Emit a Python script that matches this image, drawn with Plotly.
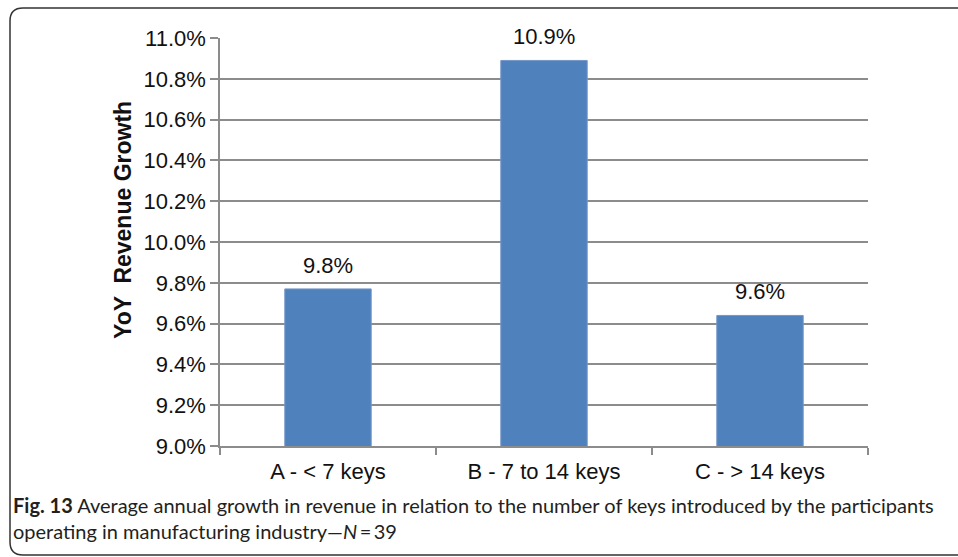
import plotly.graph_objects as go

categories = ["A - < 7 keys", "B - 7 to 14 keys", "C - > 14 keys"]
growth = [9.77, 10.89, 9.64]
bar_labels = ["9.8%", "10.9%", "9.6%"]

caption = ("<b>Fig. 13</b> Average annual growth in revenue in relation to the number of keys "
           "introduced by the participants<br>operating in manufacturing industry\u2014<i>N</i>\u2009=\u200939")

# plot area in pixels, used to convert frame/caption positions to paper coords
L, R, T, B = 220, 868, 38, 446


def px(x):
    return (x - L) / (R - L)


def py(y):
    return (B - y) / (B - T)


fig = go.Figure()

fig.add_trace(
    go.Bar(
        x=categories,
        y=growth,
        width=0.4,
        marker_color="#4f81bd",
        marker_line=dict(color="#7396c8", width=1),
        hoverinfo="x+y",
    )
)

for cat, val, lab in zip(categories, growth, bar_labels):
    fig.add_annotation(
        x=cat, y=val, text=lab, showarrow=False,
        yanchor="bottom", yshift=9,
        font=dict(family="Liberation Sans, Arial", size=22, color="#111111"),
    )

# y axis title
fig.add_annotation(
    xref="paper", yref="paper", x=px(108), y=py(220),
    text="<b>YoY  Revenue Growth</b>", textangle=-90, showarrow=False,
    font=dict(family="Liberation Sans, Arial", size=23, color="#111111"),
)

# caption
fig.add_annotation(
    xref="paper", yref="paper", x=px(11), y=py(491),
    xanchor="left", yanchor="top", align="left",
    text=caption, showarrow=False,
    font=dict(family="Lato, sans-serif", size=20, color="#231f20"),
)

# rounded frame around the figure
x0, y0, x1, y1, r = 10, 8, 962, 555, 13
path = (
    f"M {px(x1)},{py(y0)} L {px(x0 + r)},{py(y0)} "
    f"Q {px(x0)},{py(y0)} {px(x0)},{py(y0 + r)} "
    f"L {px(x0)},{py(y1 - r)} "
    f"Q {px(x0)},{py(y1)} {px(x0 + r)},{py(y1)} "
    f"L {px(x1)},{py(y1)}"
)
fig.add_shape(type="path", xref="paper", yref="paper", path=path,
              line=dict(color="#333333", width=1.5))

fig.update_layout(
    width=958,
    height=557,
    margin=dict(l=L, r=958 - R, t=T, b=557 - B),
    paper_bgcolor="white",
    plot_bgcolor="white",
    showlegend=False,
    font=dict(family="Liberation Sans, Arial", size=22, color="#111111"),
    xaxis=dict(
        showline=True, linecolor="#8c8c8c", linewidth=1.5,
        ticks="outside", tickson="boundaries", ticklen=7, tickcolor="#8c8c8c", tickwidth=1.5,
        ticklabelstandoff=5,
        showgrid=False,
    ),
    yaxis=dict(
        range=[9.0, 11.0], dtick=0.2, tickformat=".1f", ticksuffix="%",
        showline=True, linecolor="#8c8c8c", linewidth=1.5,
        ticks="outside", ticklen=8, tickcolor="#8c8c8c", tickwidth=1.5,
        showgrid=True, gridcolor="#8c8c8c", gridwidth=1.5,
        zeroline=False,
    ),
)

fig.write_html("out.html", config={"displayModeBar": False},
               post_script="document.body.style.margin='0';")
